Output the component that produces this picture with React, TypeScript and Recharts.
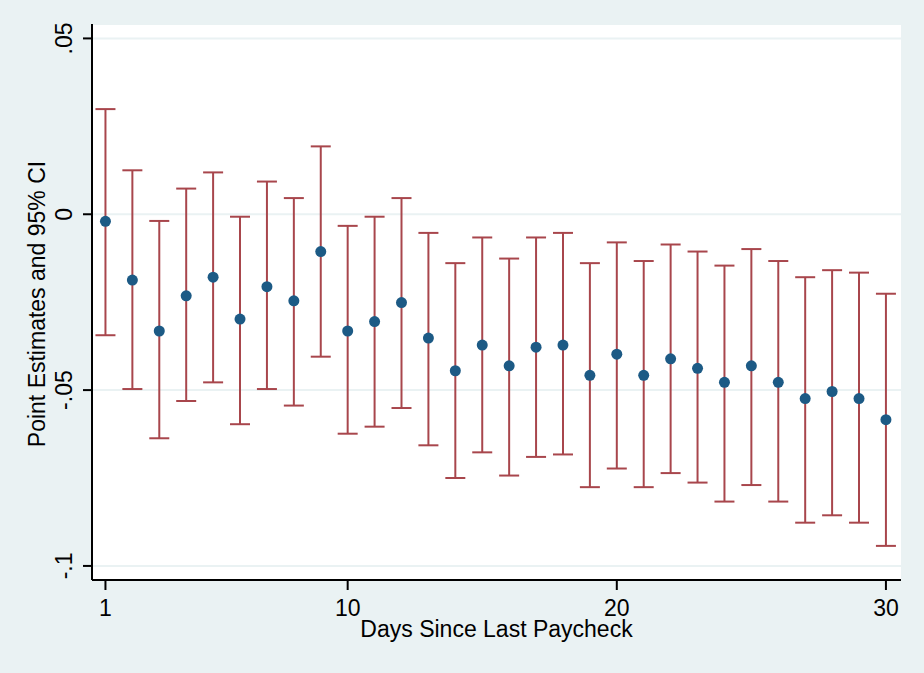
import { ComposedChart, Scatter, ErrorBar, XAxis, YAxis, CartesianGrid, Label } from "recharts";

const days = [1, 2, 3, 4, 5, 6, 7, 8, 9, 10, 11, 12, 13, 14, 15, 16, 17, 18, 19, 20, 21, 22, 23, 24, 25, 26, 27, 28, 29, 30];
const estimates = [
    -0.002, -0.0187, -0.0332, -0.0232, -0.0179, -0.0298, -0.0206, -0.0246, -0.0106, -0.0332,
    -0.0305, -0.0251, -0.0352, -0.0445, -0.0372, -0.0431, -0.0378, -0.0372, -0.0458, -0.0398,
    -0.0458, -0.0411, -0.0438, -0.0478, -0.0431, -0.0478, -0.0524, -0.0504, -0.0524, -0.0584,
];
const ciLow = [
    -0.0344, -0.0497, -0.0637, -0.0531, -0.0478, -0.0597, -0.0497, -0.0544, -0.0405, -0.0624,
    -0.0604, -0.0551, -0.0657, -0.075, -0.0677, -0.0743, -0.069, -0.0683, -0.0776, -0.0723,
    -0.0776, -0.0736, -0.0763, -0.0817, -0.077, -0.0817, -0.0877, -0.0856, -0.0877, -0.0943,
];
const ciHigh = [
    0.0299, 0.0125, -0.0019, 0.0073, 0.0119, -0.0007, 0.0093, 0.0046, 0.0193, -0.0033,
    -0.0007, 0.0046, -0.0053, -0.0139, -0.0066, -0.0126, -0.0066, -0.0053, -0.0139, -0.008,
    -0.0133, -0.0086, -0.0106, -0.0146, -0.0099, -0.0133, -0.0179, -0.0159, -0.0166, -0.0226,
];
const xTicks = [1, 10, 20, 30];
const yTicks = [-0.1, -0.05, 0, 0.05];
const yTickLabels = ["-.1", "-.05", "0", ".05"];

const FONT = "'Liberation Sans', Arial, sans-serif";
const BG = "#EAF2F3";
const NAVY = "#1C5A85";
const MAROON = "#A8464C";

const data = days.map((d, i) => ({
    day: d,
    est: estimates[i],
    err: [estimates[i] - ciLow[i], ciHigh[i] - estimates[i]],
}));

const YTick = (props: any) => {
    const { x, y, payload } = props;
    const idx = yTicks.findIndex((t) => Math.abs(t - payload.value) < 1e-9);
    const lbl = idx >= 0 ? yTickLabels[idx] : String(payload.value);
    const bx = x - 9;
    return (
        <text x={bx} y={y} transform={`rotate(-90, ${bx}, ${y})`} textAnchor="middle" fontSize={23} fontFamily={FONT} fill="#000">
            {lbl}
        </text>
    );
};

const XTick = (props: any) => {
    const { x, y, payload } = props;
    return (
        <text x={x} y={y + 24} textAnchor="middle" fontSize={23} fontFamily={FONT} fill="#000">
            {payload.value}
        </text>
    );
};

const Dot = (props: any) => <circle cx={props.cx} cy={props.cy} r={5.5} fill={NAVY} />;

export default function App() {
    return (
        <div style={{ width: 924, height: 673, background: BG }}>
            <style>{`body{margin:0}`}</style>
            <ComposedChart width={924} height={673} data={data} margin={{ top: 24, right: 23, bottom: 0, left: 0 }}>
                <CartesianGrid vertical={false} fill="#fff" stroke={BG} strokeWidth={2} />
                <XAxis
                    dataKey="day"
                    type="number"
                    domain={[0.5, 30.56]}
                    ticks={xTicks}
                    allowDataOverflow
                    height={93}
                    tickSize={10}
                    axisLine={{ stroke: "#000", strokeWidth: 2 }}
                    tickLine={{ stroke: "#000", strokeWidth: 2 }}
                    tick={<XTick />}
                >
                    <Label
                        content={(p: any) => {
                            const vb = p.viewBox;
                            return (
                                <text x={vb.x + vb.width / 2} y={vb.y + 57} textAnchor="middle" fontSize={23} fontFamily={FONT} fill="#000">
                                    Days Since Last Paycheck
                                </text>
                            );
                        }}
                    />
                </XAxis>
                <YAxis
                    type="number"
                    domain={[-0.104, 0.0541]}
                    ticks={yTicks}
                    allowDataOverflow
                    width={92}
                    tickSize={9}
                    axisLine={{ stroke: "#000", strokeWidth: 2 }}
                    tickLine={{ stroke: "#000", strokeWidth: 2 }}
                    tick={<YTick />}
                >
                    <Label
                        content={(p: any) => {
                            const vb = p.viewBox;
                            const cx = 45;
                            const cy = vb.y + vb.height / 2 + 2;
                            return (
                                <text x={cx} y={cy} transform={`rotate(-90, ${cx}, ${cy})`} textAnchor="middle" fontSize={23} fontFamily={FONT} fill="#000">
                                    Point Estimates and 95% CI
                                </text>
                            );
                        }}
                    />
                </YAxis>
                <Scatter dataKey="est" shape={<Dot />} isAnimationActive={false}>
                    <ErrorBar dataKey="err" direction="y" width={10} stroke={MAROON} strokeWidth={2} isAnimationActive={false} />
                </Scatter>
            </ComposedChart>
        </div>
    );
}
